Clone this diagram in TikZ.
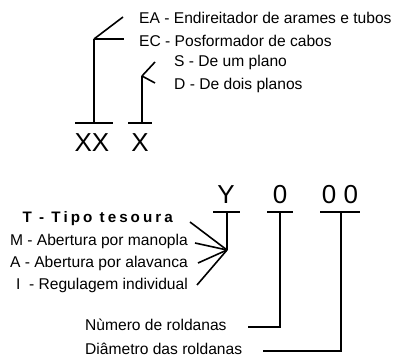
\documentclass[tikz,border=0pt]{standalone}
\usepackage{fontspec}
\setmainfont{Liberation Sans}
\usetikzlibrary{calc, positioning}

\tikzset{
    lbl/.style={inner sep=0pt, font=\fontsize{15.6}{17}\selectfont},
    code/.style={inner sep=0pt, font=\fontsize{26}{28}\selectfont},
    stem/.style={line width=1.6pt},
    bar/.style={line width=1.6pt}
}

\begin{document}
\begin{tikzpicture}[x=1pt, y=-1pt]
        \useasboundingbox (0,0) rectangle (400,358);

        % code letters
        \node[code] (XX) at (92,143) {XX};
        \node[code] (X) at (140,143) {X};
        \node[code] (Y) at (226,195) {Y};
        \node[code] (N1) at (280,195) {0};
        \node[code] (N2) at (340,195) {0 0};

        % top labels
        \node[lbl, anchor=west] (EA) at (139,18) {EA - Endireitador de arames e tubos};
        \node[lbl, anchor=west] (EC) at (139,41) {EC - Posformador de cabos};
        \node[lbl, anchor=west] (S) at (174,62) {S - De um plano};
        \node[lbl, anchor=west] (D) at (174,85) {D - De dois planos};

        % bottom labels
        \node[lbl, anchor=east, font=\fontsize{15.2}{17}\selectfont\bfseries\addfontfeature{LetterSpace=20}] (T) at (173,219) {T - Tipo tesoura};
        \node[lbl, anchor=east] (M) at (188,241) {M - Abertura por manopla};
        \node[lbl, anchor=east] (A) at (188,263) {A - Abertura por alavanca};
        \node[lbl, anchor=east] (I) at (188,285) {I~~- Regulagem individual};
        \node[lbl, anchor=west] (NR) at (85,325) {Nùmero de roldanas};
        \node[lbl, anchor=west] (DR) at (85,349) {Diâmetro das roldanas};

        % junctions and free ends
        \coordinate (jE) at (94,39);
        \coordinate (eEA) at (123,17);
        \coordinate (eEC) at (124,39);
        \coordinate (jP) at (142,76);
        \coordinate (eS) at (155,62);
        \coordinate (eD) at (155,83);
        \coordinate (jY) at (227,250);
        \coordinate (eT) at (190,222);
        \coordinate (eM) at (195,243);
        \coordinate (eA) at (198,263);
        \coordinate (eI) at (197,285);
        \coordinate (eNR) at (248,327);
        \coordinate (eDR) at (263,351);

        % bars above the letters
        \draw [bar] (75,123) -- (113,123);
        \draw [bar] (128,123) -- (152,123);
        \draw [bar] (213,212) -- (240,212);
        \draw [bar] (267,212) -- (293,212);
        \draw [bar] (320,212) -- (360,212);

        \draw [stem] (94,123) -- (jE);
        \draw [stem] (jE) -- (eEA);
        \draw [stem] (jE) -- (eEC);
        \draw [stem] (142,123) -- (jP);
        \draw [stem] (jP) -- (eS);
        \draw [stem] (jP) -- (eD);

        \draw [stem] (227,212) -- (jY);
        \draw [stem] (jY) -- (eT);
        \draw [stem] (jY) -- (eM);
        \draw [stem] (jY) -- (eA);
        \draw [stem] (jY) -- (eI);

        \draw [stem] (280,212) |- (eNR);
        \draw [stem] (341,212) |- (eDR);
    \end{tikzpicture}
\end{document}
